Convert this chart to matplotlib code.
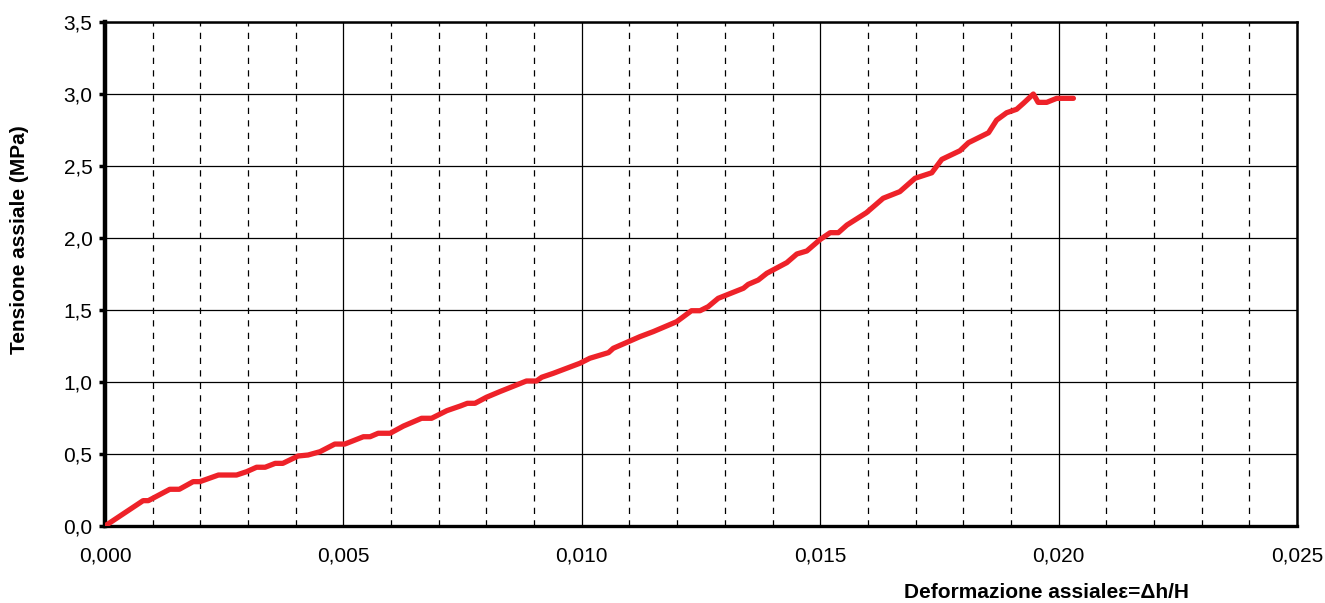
import matplotlib.pyplot as plt
from matplotlib.ticker import MultipleLocator, FuncFormatter

plt.rcParams['font.family'] = ['Liberation Sans', 'DejaVu Sans']

# strain / stress readings
deformazione = [0.0, 0.00080, 0.00091, 0.00136, 0.00156, 0.00185, 0.00199, 0.00238,
                0.00276, 0.00297, 0.00318, 0.00336, 0.00357, 0.00373, 0.00405, 0.00426,
                0.00451, 0.00482, 0.00503, 0.00542, 0.00556, 0.00573, 0.00598, 0.00626,
                0.00664, 0.00685, 0.00717, 0.00745, 0.00760, 0.00776, 0.00800, 0.00828,
                0.00884, 0.00905, 0.00916, 0.00940, 0.00996, 0.01017, 0.01056, 0.01066,
                0.01122, 0.01150, 0.01199, 0.01230, 0.01248, 0.01265, 0.01286, 0.01339,
                0.01349, 0.01370, 0.01388, 0.01430, 0.01451, 0.01472, 0.01500, 0.01521,
                0.01538, 0.01556, 0.01597, 0.01632, 0.01667, 0.01699, 0.01734, 0.01755,
                0.01793, 0.01811, 0.01853, 0.01870, 0.01891, 0.01912, 0.01926, 0.01947,
                0.01957, 0.01975, 0.01996, 0.02031]
tensione = [0.0, 0.176, 0.176, 0.255, 0.255, 0.308, 0.308, 0.354,
            0.354, 0.377, 0.408, 0.408, 0.435, 0.435, 0.486, 0.493,
            0.516, 0.569, 0.569, 0.620, 0.620, 0.644, 0.644, 0.694,
            0.748, 0.748, 0.801, 0.833, 0.852, 0.852, 0.894, 0.933,
            1.007, 1.007, 1.033, 1.060, 1.130, 1.165, 1.204, 1.234,
            1.315, 1.350, 1.419, 1.495, 1.495, 1.523, 1.581, 1.651,
            1.678, 1.708, 1.755, 1.829, 1.889, 1.910, 1.990, 2.037,
            2.037, 2.090, 2.176, 2.276, 2.322, 2.415, 2.453, 2.546,
            2.606, 2.662, 2.731, 2.819, 2.870, 2.894, 2.935, 3.000,
            2.942, 2.942, 2.970, 2.970]

fig = plt.figure(figsize=(13.25, 6.03), dpi=100)
ax = fig.add_axes([0.0792, 0.1277, 0.8997, 0.8358])

# dashed lines every 0.001, solid every 0.005 / 0.5
for i in range(1, 25):
    if i % 5:
        ax.axvline(i * 0.001, color='black', lw=0.9, ls=(0, (5, 5)), zorder=1)
ax.xaxis.set_major_locator(MultipleLocator(0.005))
ax.yaxis.set_major_locator(MultipleLocator(0.5))
ax.grid(True, which='major', color='black', lw=0.9, zorder=1)

ax.plot(deformazione, tensione, color='#ee2229', lw=3.8, solid_joinstyle='round',
        solid_capstyle='round', zorder=3)

ax.set_xlim(0, 0.025)
ax.set_ylim(0, 3.5)
ax.xaxis.set_major_formatter(FuncFormatter(lambda v, p: f'{v:.3f}'.replace('.', ',')))
ax.yaxis.set_major_formatter(FuncFormatter(lambda v, p: f'{v:.1f}'.replace('.', ',')))
ax.tick_params(axis='both', labelsize=15, length=4, width=2.5, direction='out')
ax.tick_params(axis='x', length=0, pad=15)
ax.tick_params(axis='y', pad=5)

ax.spines['left'].set_linewidth(3.2)
ax.spines['bottom'].set_linewidth(2.4)
ax.spines['top'].set_linewidth(1.8)
ax.spines['right'].set_linewidth(1.8)

fig.text(0.0145, 0.602, 'Tensione assiale (MPa)', rotation=90, ha='center', va='center',
         fontsize=15, fontweight='bold')
fig.text(0.79, 0.018, 'Deformazione assiale\u03b5=\u0394h/H', ha='center', va='center',
         fontsize=15, fontweight='bold')

fig.savefig('out.png', dpi=100)
